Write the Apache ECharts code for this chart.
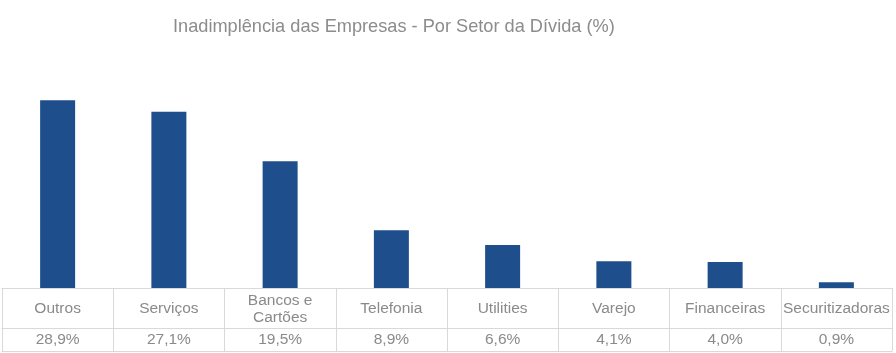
<!DOCTYPE html>
<html>
<head>
<meta charset="utf-8">
<script src="https://cdn.jsdelivr.net/npm/echarts@6/dist/echarts.min.js"></script>
<style>
  html, body { margin: 0; padding: 0; background: #fff; }
  #chart { width: 896px; height: 353px; }
</style>
</head>
<body>
<div id="chart"></div>
<script>
const categories = ['Outros', 'Serviços', 'Bancos e\nCartões', 'Telefonia', 'Utilities', 'Varejo', 'Financeiras', 'Securitizadoras']
const values = [28.9, 27.1, 19.5, 8.9, 6.6, 4.1, 4.0, 0.9]
const valueLabels = values.map((v) => v.toFixed(1).replace('.', ',') + '%')

const textGray = '#8a8a8a'
const lineGray = '#d9d9d9'
const font = 'Liberation Sans, Arial, sans-serif'

const chart = echarts.init(document.getElementById('chart'))

// tabela embaixo: três eixos de categoria empilhados formam as linhas e colunas
chart.setOption({
  animation: false,
  title: {
    text: 'Inadimplência das Empresas - Por Setor da Dívida (%)',
    left: 168,
    top: 13,
    textStyle: { color: '#8c8c8c', fontSize: 18.2, fontWeight: 'normal', fontFamily: font }
  },
  grid: { left: 2, right: 4, top: 93, bottom: 65 },
  xAxis: [
    {
      type: 'category',
      data: categories,
      axisLine: { lineStyle: { color: lineGray } },
      axisTick: { show: true, length: 63, lineStyle: { color: lineGray } },
      axisLabel: {
        interval: 0,
        margin: 21,
        verticalAlign: 'middle',
        color: textGray,
        fontSize: 15.5,
        lineHeight: 17,
        fontFamily: font
      }
    },
    {
      type: 'category',
      data: valueLabels,
      position: 'bottom',
      offset: 40,
      axisLine: { lineStyle: { color: lineGray } },
      axisTick: { show: false },
      axisLabel: {
        interval: 0,
        margin: 12,
        verticalAlign: 'middle',
        color: textGray,
        fontSize: 15.5,
        fontFamily: font
      }
    },
    {
      type: 'category',
      data: categories,
      position: 'bottom',
      offset: 63,
      axisLine: { lineStyle: { color: lineGray } },
      axisTick: { show: false },
      axisLabel: { show: false }
    }
  ],
  yAxis: {
    type: 'value',
    min: 0,
    max: 30,
    show: false
  },
  series: [
    {
      type: 'bar',
      xAxisIndex: 0,
      barWidth: 35,
      itemStyle: { color: '#1f4e8c' },
      data: values
    }
  ]
})
</script>
</body>
</html>
